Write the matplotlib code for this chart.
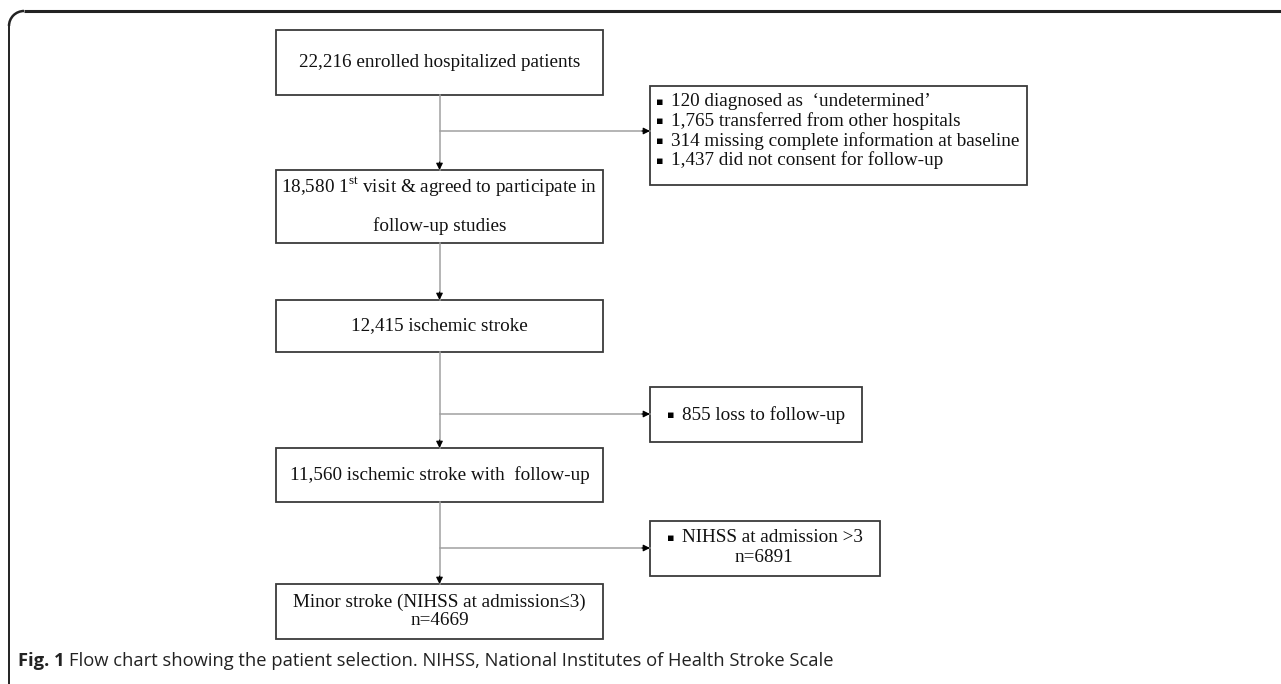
import matplotlib
matplotlib.use('Agg')
import matplotlib.pyplot as plt
from matplotlib.patches import Rectangle, Arc

plt.rcParams['mathtext.fontset'] = 'custom'
plt.rcParams['mathtext.rm'] = 'Liberation Serif'

# 流程图的文字内容
main_steps = [
    ["22,216 enrolled hospitalized patients"],
    [r"18,580 1$^{\mathrm{st}}$ visit & agreed to participate in", "follow-up studies"],
    ["12,415 ischemic stroke"],
    ["11,560 ischemic stroke with  follow-up"],
    ["Minor stroke (NIHSS at admission≤3)", "n=4669"],
]
excluded_1 = [
    "120 diagnosed as  \u2018undetermined\u2019",
    "1,765 transferred from other hospitals",
    "314 missing complete information at baseline",
    "1,437 did not consent for follow-up",
]
excluded_2 = ["855 loss to follow-up"]
excluded_3 = ["NIHSS at admission >3", "n=6891"]
caption_bold = "Fig. 1"
caption_text = "Flow chart showing the patient selection. NIHSS, National Institutes of Health Stroke Scale"

W, H = 1281, 684
fig = plt.figure(figsize=(W / 100, H / 100), dpi=100)
ax = fig.add_axes([0, 0, 1, 1])
ax.set_xlim(0, W)
ax.set_ylim(H, 0)
ax.axis('off')

SERIF = ['Liberation Serif', 'DejaVu Serif']
FS = 13.8
BOX_EC = '#3a3a3a'
LINE_C = '#a0a0a0'
TXT_C = '#111111'

# 外框 (只有上边和左边, 左上角圆角)
ax.plot([24, W], [11, 11], color='#222222', lw=2.2, solid_capstyle='butt')
ax.plot([9, 9], [26, H], color='#222222', lw=1.4, solid_capstyle='butt')
ax.add_patch(Arc((24, 26), 30, 30, theta1=180, theta2=270,
                 color='#222222', lw=1.8))

# 主流程框
main_x0, main_x1 = 276, 603
main_y = [(30, 95), (170, 243), (300, 352), (448, 502), (584, 639)]
line_gap = [0, 39, 0, 0, 18]
cx = (main_x0 + main_x1) / 2
for lines, (y0, y1), gap in zip(main_steps, main_y, line_gap):
    ax.add_patch(Rectangle((main_x0, y0), main_x1 - main_x0, y1 - y0,
                           fill=False, ec=BOX_EC, lw=1.3))
    yc = (y0 + y1) / 2
    n = len(lines)
    for i, t in enumerate(lines):
        yy = yc + (i - (n - 1) / 2) * gap
        ax.text(cx, yy, t, ha='center', va='center', fontsize=FS,
                family=SERIF, color=TXT_C)


def arrow(x0, y0, x1, y1):
    # 灰色线条 + 黑色小箭头
    ax.plot([x0, x1], [y0, y1], color=LINE_C, lw=1.1)
    dx = 0 if x1 == x0 else (8 if x1 > x0 else -8)
    dy = 0 if y1 == y0 else (8 if y1 > y0 else -8)
    ax.annotate('', xy=(x1, y1), xytext=(x1 - dx, y1 - dy),
                arrowprops=dict(arrowstyle='-|>', lw=0.8, color='black',
                                mutation_scale=10, shrinkA=0, shrinkB=0))


# 竖向箭头
for (a0, a1), (b0, b1) in zip(main_y[:-1], main_y[1:]):
    arrow(cx, a1, cx, b0)

# 排除框
ex_x0 = 650
ex_boxes = [
    (excluded_1, 1027, 86, 185, 131),
    (excluded_2, 862, 387, 442, 414),
    (excluded_3, 880, 521, 576, 548),
]
for items, x1, y0, y1, ya in ex_boxes:
    ax.add_patch(Rectangle((ex_x0, y0), x1 - ex_x0, y1 - y0,
                           fill=False, ec=BOX_EC, lw=1.3))
    arrow(cx, ya, ex_x0, ya)


def bullet(x, y):
    ax.text(x, y, '\u25aa', ha='left', va='center', fontsize=8,
            family=['DejaVu Sans'], color='black')


# 第一个排除框: 四条带方块符号的条目
for i, t in enumerate(excluded_1):
    yy = 102 + i * 19.5
    bullet(656, yy)
    ax.text(671, yy, t, ha='left', va='center', fontsize=FS,
            family=SERIF, color=TXT_C)

# 第二个排除框
bullet(667, 415)
ax.text(682, 415, excluded_2[0], ha='left', va='center', fontsize=FS,
        family=SERIF, color=TXT_C)

# 第三个排除框
bullet(667, 538)
ax.text(682, 538, excluded_3[0], ha='left', va='center', fontsize=FS,
        family=SERIF, color=TXT_C)
ax.text(764, 557, excluded_3[1], ha='center', va='center', fontsize=FS,
        family=SERIF, color=TXT_C)

# 图注
t1 = ax.text(18, 661, caption_bold + ' ', ha='left', va='center', fontsize=13.2,
             family=['Open Sans'], weight='bold', color='#222222')
fig.canvas.draw()
bb = t1.get_window_extent()
x_next = ax.transData.inverted().transform((bb.x1, 0))[0]
ax.text(x_next, 661, caption_text, ha='left', va='center', fontsize=13.2,
        family=['Open Sans'], color='#222222')

fig.savefig('out.png', dpi=100)
plt.close(fig)
